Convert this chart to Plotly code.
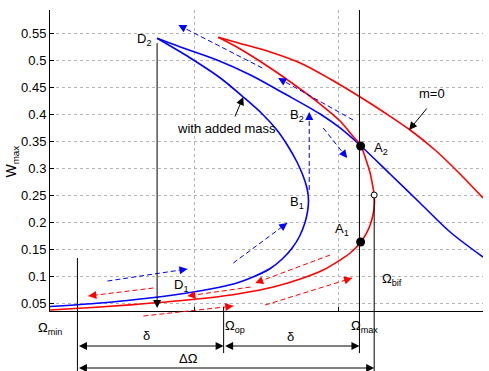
import math
import plotly.graph_objects as go

# ---------------- data ----------------
# response curve "with added mass" (blue): lower branch -> fold B1 -> D2, then resonant branch D2 -> right
blue_lo_omega = [0.000, 0.349, 0.626, 0.903, 1.111, 1.284, 1.422, 1.526, 1.609, 1.678, 1.730, 1.768, 1.785, 1.791,
                 1.782, 1.754, 1.711, 1.644, 1.572, 1.471, 1.339, 1.180, 0.972, 0.742]
blue_lo_w = [0.0435, 0.0500, 0.0574, 0.0667, 0.0759, 0.0861, 0.1000, 0.1139, 0.1315, 0.1519, 0.1741, 0.2000, 0.2204,
             0.2407, 0.2611, 0.2852, 0.3111, 0.3426, 0.3704, 0.4000, 0.4315, 0.4667, 0.5037, 0.5402]
blue_up_omega = [0.742, 0.903, 1.157, 1.389, 1.616, 1.872, 2.010, 2.154, 2.356, 2.564, 2.772, 3.000]
blue_up_w = [0.5402, 0.5241, 0.5000, 0.4722, 0.4389, 0.4000, 0.3741, 0.3407, 0.2889, 0.2352, 0.1815, 0.1352]

# response curve m=0 (red)
red_lo_omega = [0.000, 0.349, 0.626, 1.090, 1.318, 1.547, 1.734, 1.893, 2.010, 2.080, 2.154, 2.190, 2.218,
                2.239, 2.248, 2.246, 2.235, 2.218, 2.190, 2.154, 2.080, 2.010, 1.872, 1.734, 1.526, 1.318, 1.166]
red_lo_w = [0.0370, 0.0426, 0.0481, 0.0593, 0.0676, 0.0796, 0.0944, 0.1111, 0.1296, 0.1426, 0.1630, 0.1778, 0.1944,
            0.2148, 0.2352, 0.2500, 0.2685, 0.2907, 0.3148, 0.3407, 0.3648, 0.3870, 0.4185, 0.4463, 0.4852, 0.5204, 0.5420]
red_up_omega = [1.166, 1.318, 1.526, 1.734, 1.941, 2.149, 2.322, 2.495, 2.668, 2.841, 3.000]
red_up_w = [0.5420, 0.5306, 0.5148, 0.4944, 0.4648, 0.4315, 0.4019, 0.3704, 0.3333, 0.2889, 0.2444]

# points A1, A2 and bifurcation point
A_omega = [2.152, 2.152]
A_w = [0.1630, 0.3407]
bif_omega = [2.246]
bif_w = [0.2500]

# dashed jump arrows (tail -> tip)
blue_tail_omega = [1.471, 2.100, 1.893, 1.796, 1.270, 0.398]
blue_tail_w = [0.4852, 0.3889, 0.3741, 0.2593, 0.1241, 0.0907]
blue_tip_omega = [0.889, 1.581, 2.059, 1.796, 1.644, 0.952]
blue_tip_w = [0.5648, 0.4667, 0.3185, 0.4037, 0.1981, 0.1130]
red_tail_omega = [0.716, 1.389, 1.941, 1.491, 0.647]
red_tail_w = [0.0778, 0.0796, 0.1389, 0.0463, 0.0259]
red_tip_omega = [0.266, 0.952, 1.422, 2.093, 1.270]
red_tip_w = [0.0630, 0.0630, 0.0870, 0.0963, 0.0444]

# characteristic frequencies
omega_min, omega_op, omega_max, omega_bif = 0.190, 1.203, 2.144, 2.246
omega_D = 0.742
w_D2, w_D1 = 0.534, 0.0407
w_min_line = 0.1333

ytick_vals = [0.05, 0.10, 0.15, 0.20, 0.25, 0.30, 0.35, 0.40, 0.45, 0.50, 0.55]
ytick_text = ['0.05', '0.1', '0.15', '0.2', '0.25', '0.3', '0.35', '0.4', '0.45', '0.5', '0.55']
xtick_vals = [0, 1, 2, 3]

# ---------------- layout constants ----------------
FIG_W, FIG_H = 489, 371
ML, MR, MT, MB = 50, 6, 10, 60
X_RANGE = [0, 3]
Y_RANGE = [0.0352, 0.5926]
PW = FIG_W - ML - MR
PH = FIG_H - MT - MB
SX = PW / (X_RANGE[1] - X_RANGE[0])
SY = PH / (Y_RANGE[1] - Y_RANGE[0])


def xp(om):
    return (om - X_RANGE[0]) / (X_RANGE[1] - X_RANGE[0])


def yp(w):
    return (w - Y_RANGE[0]) / (Y_RANGE[1] - Y_RANGE[0])


def below(px):
    return -px / PH


FONT = 'Liberation Sans, Arial, Helvetica, sans-serif'
BLUE = '#0000ff'
RED = '#ff0000'
FS = 13

fig = go.Figure()

for om, w, c in [(blue_lo_omega, blue_lo_w, BLUE), (blue_up_omega, blue_up_w, BLUE),
                 (red_lo_omega, red_lo_w, RED), (red_up_omega, red_up_w, RED)]:
    fig.add_trace(go.Scatter(x=om, y=w, mode='lines', hoverinfo='skip',
                             line=dict(color=c, width=1.6, shape='spline', smoothing=0.9)))


def dashed_arrow(t_om, t_w, h_om, h_w, color):
    inside = all(Y_RANGE[0] <= v <= Y_RANGE[1] for v in (t_w, h_w))
    ln = dict(color=color, width=1, dash='5px,3px')
    if inside:
        fig.add_shape(type='line', xref='x', yref='y', x0=t_om, y0=t_w, x1=h_om, y1=h_w, line=ln)
    else:
        fig.add_shape(type='line', xref='paper', yref='paper', x0=xp(t_om), y0=yp(t_w),
                      x1=xp(h_om), y1=yp(h_w), line=ln)
    vx = (h_om - t_om) * SX
    vy = -(h_w - t_w) * SY
    k = 7.0 / math.hypot(vx, vy)
    fig.add_annotation(x=h_om, y=h_w, xref='x', yref='y', axref='pixel', ayref='pixel',
                       ax=-vx * k, ay=-vy * k, text='', showarrow=True, arrowhead=2,
                       arrowsize=1.6, arrowwidth=1, arrowcolor=color)


for i in range(len(blue_tail_omega)):
    dashed_arrow(blue_tail_omega[i], blue_tail_w[i], blue_tip_omega[i], blue_tip_w[i], BLUE)
for i in range(len(red_tail_omega)):
    dashed_arrow(red_tail_omega[i], red_tail_w[i], red_tip_omega[i], red_tip_w[i], RED)

# markers
fig.add_trace(go.Scatter(x=A_omega, y=A_w, mode='markers', hoverinfo='skip', cliponaxis=False,
                         marker=dict(size=9, color='black')))
fig.add_trace(go.Scatter(x=bif_omega, y=bif_w, mode='markers', hoverinfo='skip', cliponaxis=False,
                         marker=dict(size=6, color='white', line=dict(color='black', width=1))))

# vertical reference lines (extend below the axes)
black = dict(color='black', width=1)
fig.add_shape(type='line', xref='paper', yref='paper', x0=xp(omega_min), x1=xp(omega_min),
              y0=yp(w_min_line), y1=below(60), line=black)
fig.add_shape(type='line', xref='paper', yref='paper', x0=xp(omega_op), x1=xp(omega_op),
              y0=4 / PH, y1=below(42), line=black)
fig.add_shape(type='line', xref='paper', yref='paper', x0=xp(omega_max), x1=xp(omega_max),
              y0=1, y1=below(42), line=black)
fig.add_shape(type='line', xref='paper', yref='paper', x0=xp(omega_bif), x1=xp(omega_bif),
              y0=yp(bif_w[0]) - 3 / PH, y1=below(60), line=black)


# solid arrows
def solid_arrow(t_om, t_w, h_om, h_w):
    fig.add_annotation(x=h_om, y=h_w, xref='x', yref='y', axref='x', ayref='y', ax=t_om, ay=t_w,
                       text='', showarrow=True, arrowhead=2, arrowsize=1.6, arrowwidth=1,
                       arrowcolor='black')


solid_arrow(omega_D, w_D2, omega_D, w_D1)
solid_arrow(1.277, 0.3926, 1.339, 0.4315)   # with added mass
solid_arrow(2.619, 0.4130, 2.488, 0.3704)   # m=0


# double arrows below the axis
def dbl_arrow(om0, om1, ypx):
    fig.add_annotation(x=xp(om1), y=below(ypx), xref='paper', yref='paper', axref='pixel', ayref='pixel',
                       ax=-(om1 - om0) * SX, ay=0, text='', showarrow=True, arrowhead=2,
                       arrowsize=1.6, arrowwidth=1, arrowcolor='black', arrowside='end+start')


dbl_arrow(omega_min, omega_op, 35)
dbl_arrow(omega_op, omega_max, 35)
dbl_arrow(omega_min, omega_bif, 57)


def label(txt, om, w, xanchor='center', size=FS):
    fig.add_annotation(x=om, y=w, xref='x', yref='y', text=txt, showarrow=False, xanchor=xanchor,
                       yanchor='middle', font=dict(family=FONT, size=size, color='black'))


def label_below(txt, om, ypx, size=FS):
    fig.add_annotation(x=xp(om), y=below(ypx), xref='paper', yref='paper', text=txt, showarrow=False,
                       xanchor='center', yanchor='middle', font=dict(family=FONT, size=size, color='black'))


label('D<sub>2</sub>', 0.716, 0.5389, 'right')
label('D<sub>1</sub>', 0.848, 0.0833, 'left')
label('B<sub>1</sub>', 1.650, 0.2370, 'left')
label('B<sub>2</sub>', 1.650, 0.3980, 'left')
label('A<sub>1</sub>', 1.962, 0.1870, 'left')
label('A<sub>2</sub>', 2.232, 0.3370, 'left')
label('m=0', 2.647, 0.4389)
label('with added mass', 1.221, 0.3740)
label('\u03a9<sub>bif</sub>', 2.287, 0.0935, 'left')

label_below('\u03a9<sub>min</sub>', -0.003, 17.5)
label_below('\u03a9<sub>op</sub>', 1.284, 15.5)
label_below('\u03a9<sub>max</sub>', 2.180, 16)
label_below('\u03b4', 0.669, 24)
label_below('\u03b4', 1.664, 25)
label_below('\u0394\u03a9', 0.962, 47)

# y axis title
fig.add_annotation(x=(12.5 - ML) / PW, y=0.495, xref='paper', yref='paper', text='W<sub>max</sub>',
                   textangle=-90, showarrow=False, xanchor='center', yanchor='middle',
                   font=dict(family=FONT, size=14, color='black'))

fig.update_layout(
    width=FIG_W, height=FIG_H,
    margin=dict(l=ML, r=MR, t=MT, b=MB, pad=0),
    paper_bgcolor='white', plot_bgcolor='white',
    showlegend=False,
    font=dict(family=FONT, size=FS, color='black'),
    xaxis=dict(range=X_RANGE, tickvals=xtick_vals, showticklabels=False, ticks='inside', ticklen=4,
               tickcolor='black', showgrid=True, gridcolor='#b4b4b4', griddash='dot', gridwidth=1,
               showline=True, linecolor='black', linewidth=1, zeroline=False, fixedrange=True),
    yaxis=dict(range=Y_RANGE, tickvals=ytick_vals, ticktext=ytick_text, ticks='inside', ticklen=4,
               tickcolor='black', showgrid=True, gridcolor='#b4b4b4', griddash='dot', gridwidth=1,
               showline=True, linecolor='black', linewidth=1, zeroline=False, fixedrange=True,
               tickfont=dict(family=FONT, size=FS, color='black')),
)

fig.write_html('out.html')
